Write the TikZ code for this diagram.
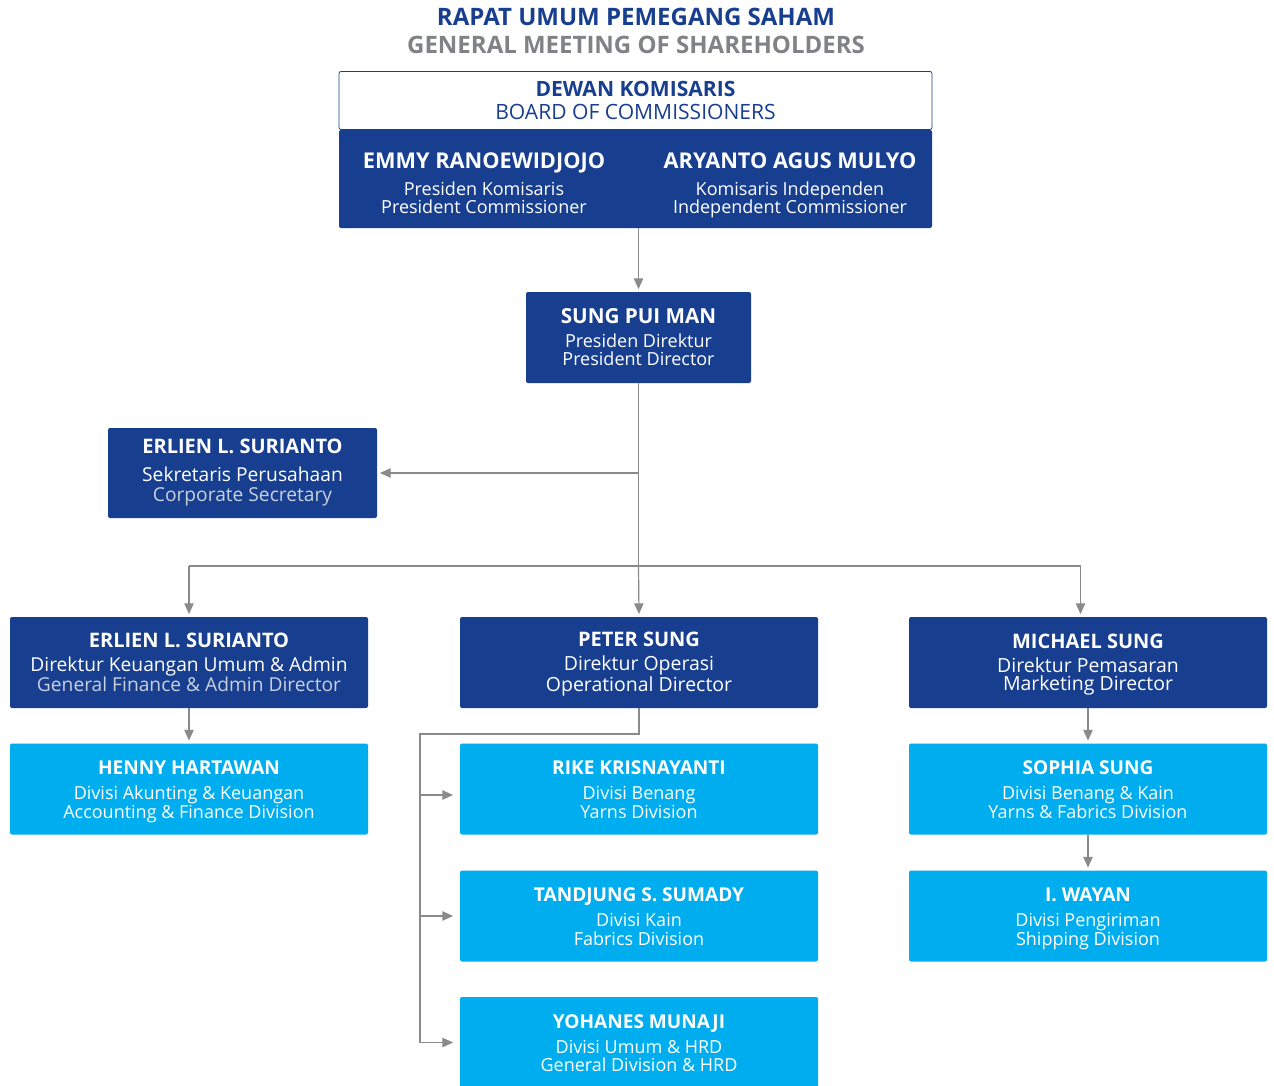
\documentclass[tikz,border=0pt]{standalone}
\usepackage{fontspec}
\setmainfont{Open Sans}
\usetikzlibrary{arrows.meta}

\definecolor{navy}{RGB}{24,63,143}
\definecolor{sky}{RGB}{0,174,239}
\definecolor{titlegray}{RGB}{128,130,133}
\definecolor{linegray}{RGB}{138,138,138}
\definecolor{paletext}{RGB}{200,208,224}

% name in bold at size #1, gap #2, then two plain lines
\newcommand{\stafftop}{10pt}
\newcommand{\staff}[5][15]{\rule{0pt}{\stafftop}{\fontsize{#1}{14}\selectfont\bfseries #3}\\[#2]#4\\#5\rule[-4.2pt]{0pt}{4.2pt}}

\tikzset{
  darkbox/.style={fill=navy, text=white, rounded corners=1.5pt, inner sep=0pt, align=center,
    minimum width=268.5pt, minimum height=68.25pt,
    font=\fontsize{14.6}{14}\selectfont\def\stafftop{14.5pt}},
  lightbox/.style={darkbox, fill=sky, font=\fontsize{13.5}{14}\selectfont\def\stafftop{15.6pt}},
  conn/.style={draw=linegray, line width=0.9pt},
  arr/.style={conn, -{Triangle[length=8pt,width=7pt]}, shorten >=2pt}
}

\begin{document}
\begin{tikzpicture}[x=0.75pt,y=-0.75pt]
\clip (0,0) rectangle (1274,1085);
\fill[white] (0,0) rectangle (1274,1085);

% title
\node (rups) at (636,17) [text=navy, font=\fontsize{18}{18}\selectfont\bfseries] {RAPAT UMUM PEMEGANG SAHAM};
\node (gms) at (636,45) [text=titlegray, font=\fontsize{18}{18}\selectfont\bfseries] {GENERAL MEETING OF SHAREHOLDERS};

% board of commissioners
\node (bochead) at (635.5,100.5) [draw=navy, line width=0.6pt, rounded corners=1.5pt, inner sep=0pt,
  minimum width=444.75pt, minimum height=43.5pt, align=center, text=navy,
  font=\fontsize{15.8}{17.5}\selectfont] {\textbf{DEWAN KOMISARIS}\\BOARD OF COMMISSIONERS};
\node (bocbody) at (635.5,179) [fill=navy, rounded corners=1.5pt, inner sep=0pt,
  minimum width=444.75pt, minimum height=73.5pt] {};
\node (emmy) at (484,186) [text=white, align=center, inner sep=0pt, font=\fontsize{13.5}{14}\selectfont]
  {\staff[16.3]{6pt}{EMMY RANOEWIDJOJO}{Presiden Komisaris}{President Commissioner}};
\node (aryanto) at (790,186) [text=white, align=center, inner sep=0pt, font=\fontsize{13.5}{14}\selectfont]
  {\staff[16.3]{6pt}{ARYANTO AGUS MULYO}{Komisaris Independen}{Independent Commissioner}};

% president director and secretary
\node (pd) at (638.5,337.5) [darkbox, minimum width=168.75pt, font=\fontsize{13.5}{14}\selectfont\def\stafftop{14.5pt}]
  {\staff[15.5]{4pt}{SUNG PUI MAN}{Presiden Direktur}{President Director}};
\node (sec) at (242.5,473) [darkbox, minimum width=201.75pt, minimum height=67.5pt, font=\fontsize{14.4}{15.5}\selectfont\def\stafftop{10pt}]
  {\staff{5.5pt}{ERLIEN L. SURIANTO}{Sekretaris Perusahaan}{\textcolor{paletext}{Corporate Secretary}}};

% directors
\node (fin) at (189,662.5) [darkbox, font=\fontsize{14.4}{14}\selectfont\def\stafftop{14.5pt}]
  {\staff{4pt}{ERLIEN L. SURIANTO}{Direktur Keuangan Umum \& Admin}{\textcolor{paletext}{General Finance \& Admin Director}}};
\node (ops) at (639,662.5) [darkbox]
  {\staff{4pt}{PETER SUNG}{Direktur Operasi}{Operational Director}};
\node (mkt) at (1088,662.5) [darkbox]
  {\staff{4pt}{MICHAEL SUNG}{Direktur Pemasaran}{Marketing Director}};

% divisions
\node (henny) at (189,789) [lightbox]
  {\staff[14.3]{4.5pt}{HENNY HARTAWAN}{Divisi Akunting \& Keuangan}{Accounting \& Finance Division}};
\node (rike) at (639,789) [lightbox]
  {\staff[14.3]{4.5pt}{RIKE KRISNAYANTI}{Divisi Benang}{Yarns Division}};
\node (tandjung) at (639,916) [lightbox]
  {\staff[14.3]{4.5pt}{TANDJUNG S. SUMADY}{Divisi Kain}{Fabrics Division}};
\node (yohanes) at (639,1042.5) [lightbox]
  {\staff[14.3]{4.5pt}{YOHANES MUNAJI}{Divisi Umum \& HRD}{General Division \& HRD}};
\node (sophia) at (1088,789) [lightbox]
  {\staff[14.3]{4.5pt}{SOPHIA SUNG}{Divisi Benang \& Kain}{Yarns \& Fabrics Division}};
\node (wayan) at (1088,916) [lightbox]
  {\staff[14.3]{4.5pt}{I. WAYAN}{Divisi Pengiriman}{Shipping Division}};

% connectors
\coordinate (bus) at (638.5,566);
\coordinate (mktdrop) at (1080.5,566);
\coordinate (opsbend) at (420,734);
\coordinate (rikein) at ([yshift=-4.5pt]rike.west);
\draw[arr] (bocbody.south -| pd.north) -- (pd.north);
\draw[conn] (pd.south) -- (bus);
\draw[arr] (pd.south |- sec.east) -- (sec.east);
\draw[conn] (fin.north |- bus) -- (mktdrop);
\draw[arr] (fin.north |- bus) -- (fin.north);
\draw[arr] (bus) -- (ops.north);
\draw[arr] (mktdrop) -- (mktdrop |- mkt.north);
\draw[arr] (fin.south) -- (henny.north);
\draw[arr] (mkt.south) -- (sophia.north);
\draw[arr] (sophia.south) -- (wayan.north);
\draw[conn] (ops.south) -- (ops.south |- opsbend) -- (opsbend) -- (opsbend |- yohanes.west);
\draw[arr, shorten >=5pt] (opsbend |- rikein) -- (rikein);
\draw[arr, shorten >=5pt] (opsbend |- tandjung.west) -- (tandjung.west);
\draw[arr, shorten >=5pt] (opsbend |- yohanes.west) -- (yohanes.west);
\end{tikzpicture}
\end{document}
